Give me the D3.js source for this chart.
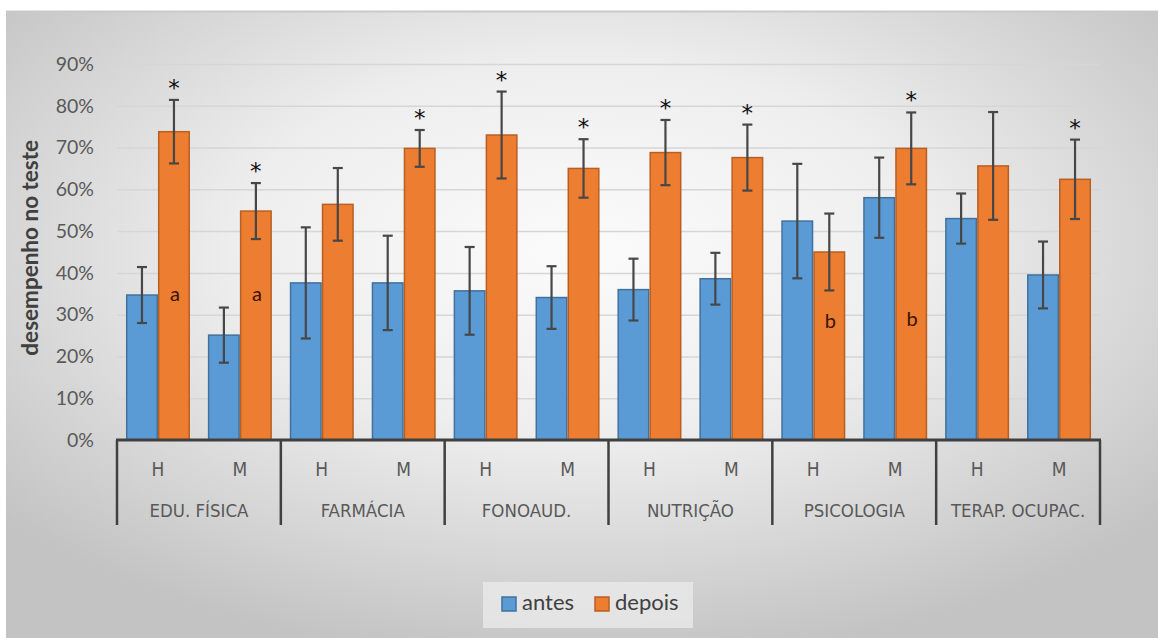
<!DOCTYPE html>
<html>
<head>
<meta charset="utf-8">
<script src="https://cdn.jsdelivr.net/npm/d3@7"></script>
<style>
  html, body { margin: 0; padding: 0; background: #fff; }
  svg { display: block; }
</style>
</head>
<body>
<div class="chart"></div>
<script>
const WIDTH = 1158;
const HEIGHT = 638;
const MARGIN = {TOP: 64, BOTTOM: 198, LEFT: 117, RIGHT: 58};
const innerWidth = WIDTH - MARGIN.LEFT - MARGIN.RIGHT;
const innerHeight = HEIGHT - MARGIN.TOP - MARGIN.BOTTOM;

// data
var cursos = ['EDU. FÍSICA', 'FARMÁCIA', 'FONOAUD.', 'NUTRIÇÃO', 'PSICOLOGIA', 'TERAP. OCUPAC.'];
var sexos = ['H', 'M'];
var series = ['antes', 'depois'];
var antes = [0.347, 0.251, 0.376, 0.376, 0.357, 0.341, 0.360, 0.386, 0.524, 0.580, 0.530, 0.395];
var antesErr = [0.067, 0.066, 0.133, 0.113, 0.105, 0.075, 0.074, 0.062, 0.137, 0.096, 0.060, 0.080];
var depois = [0.738, 0.548, 0.564, 0.698, 0.730, 0.650, 0.688, 0.676, 0.450, 0.698, 0.656, 0.624];
var depoisErr = [0.076, 0.067, 0.087, 0.044, 0.104, 0.070, 0.078, 0.079, 0.092, 0.086, 0.129, 0.095];
var asterisco = [true, true, false, true, true, true, true, true, false, true, false, true];
var letras = ['a', 'a', '', '', '', '', '', '', 'b', 'b', '', ''];
var letraPos = [0.345, 0.345, 0, 0, 0, 0, 0, 0, 0.28, 0.285, 0, 0];
var yTicks = [0, 0.1, 0.2, 0.3, 0.4, 0.5, 0.6, 0.7, 0.8, 0.9];

var colors = {antes: '#5b9bd5', depois: '#ed7d31'};
var borders = {antes: '#41719c', depois: '#b85f22'};
var LABEL_FONT = "'Liberation Sans Narrow', 'DejaVu Sans Condensed', 'Roboto Condensed', Roboto, sans-serif";
var FONT = "Lato, 'Open Sans', sans-serif";

var rows = [];
cursos.forEach(function (c, i) {
    sexos.forEach(function (s, j) {
        var k = i * 2 + j;
        rows.push({curso: c, sexo: s, idx: k,
            antes: antes[k], antesErr: antesErr[k],
            depois: depois[k], depoisErr: depoisErr[k],
            ast: asterisco[k], letra: letras[k], letraPos: letraPos[k]});
    });
});

var x0 = d3.scaleBand().domain(cursos).range([0, innerWidth]);
var x1 = d3.scaleBand().domain(sexos).range([0, x0.bandwidth()]);
var x2 = d3.scaleBand().domain(series).range([0, x1.bandwidth()]).paddingOuter(0.28);
var yScale = d3.scaleLinear().domain([0, 0.9]).range([innerHeight, 0]);

var svg = d3.select('.chart').append('svg')
    .attr('width', WIDTH)
    .attr('height', HEIGHT);

var defs = svg.append('defs');
var grad = defs.append('radialGradient')
    .attr('id', 'bg')
    .attr('cx', '50%').attr('cy', '38%').attr('r', '66%');
grad.append('stop').attr('offset', '0').attr('stop-color', '#fbfbfb');
grad.append('stop').attr('offset', '0.45').attr('stop-color', '#eeeeee');
grad.append('stop').attr('offset', '1').attr('stop-color', '#c3c3c3');

svg.append('rect')
    .attr('x', 6).attr('y', 11)
    .attr('width', WIDTH - 6).attr('height', HEIGHT - 11)
    .attr('fill', 'url(#bg)');
svg.append('line')
    .attr('x1', 6).attr('x2', WIDTH).attr('y1', 11.5).attr('y2', 11.5)
    .attr('stroke', '#c9c9c9').attr('stroke-width', 2);

var mainGroup = svg.append('g')
    .attr('transform', 'translate(' + MARGIN.LEFT + ',' + MARGIN.TOP + ')');

// y axis with gridlines
var yAxis = d3.axisLeft(yScale)
    .tickValues(yTicks)
    .tickFormat(d3.format('.0%'))
    .tickSizeInner(-innerWidth)
    .tickSizeOuter(0);

var yAxisG = mainGroup.append('g').call(yAxis);
yAxisG.select('.domain').remove();
yAxisG.selectAll('.tick line')
    .attr('stroke', '#d6d6d6')
    .attr('stroke-width', 1.5);
yAxisG.selectAll('text')
    .attr('x', -23)
    .attr('fill', '#595959')
    .style('font-family', FONT)
    .style('font-size', '19.5px');

mainGroup.append('text')
    .attr('transform', 'translate(' + (32 - MARGIN.LEFT) + ',' + (yScale(0.46)) + ') rotate(-90)')
    .attr('text-anchor', 'middle')
    .attr('dominant-baseline', 'middle')
    .attr('fill', '#404040')
    .style('font-family', FONT)
    .style('font-weight', 'bold')
    .style('font-size', '22.5px')
    .text('desempenho no teste');

// bars
var cell = mainGroup.selectAll('.cell')
    .data(rows)
    .enter().append('g')
    .attr('transform', function (d) { return 'translate(' + (x0(d.curso) + x1(d.sexo)) + ',0)'; });

series.forEach(function (s) {
    cell.append('rect')
        .attr('x', x2(s) + 0.75)
        .attr('width', x2.bandwidth() - 1.5)
        .attr('y', function (d) { return yScale(d[s]); })
        .attr('height', function (d) { return innerHeight - yScale(d[s]); })
        .attr('fill', colors[s])
        .attr('stroke', borders[s])
        .attr('stroke-width', 1.5);
});

// error bars
series.forEach(function (s) {
    var cx = x2(s) + x2.bandwidth() / 2;
    var err = cell.append('g').attr('stroke', '#474747').attr('stroke-width', 2.2);
    err.append('line')
        .attr('x1', cx).attr('x2', cx)
        .attr('y1', function (d) { return yScale(d[s] + d[s + 'Err']); })
        .attr('y2', function (d) { return yScale(d[s] - d[s + 'Err']); });
    [1, -1].forEach(function (sign) {
        err.append('line')
            .attr('x1', cx - 5).attr('x2', cx + 5)
            .attr('y1', function (d) { return yScale(d[s] + sign * d[s + 'Err']); })
            .attr('y2', function (d) { return yScale(d[s] + sign * d[s + 'Err']); });
    });
});

// asterisks and letters on the "depois" bars
var cxDep = x2('depois') + x2.bandwidth() / 2;
cell.filter(function (d) { return d.ast; })
    .append('text')
    .attr('x', cxDep)
    .attr('y', function (d) { return yScale(d.depois + d.depoisErr) - 4; })
    .attr('text-anchor', 'middle')
    .attr('fill', '#111')
    .style('font-family', "'DejaVu Sans', sans-serif")
    .style('font-size', '23px')
    .text('*');

cell.filter(function (d) { return d.letra; })
    .append('text')
    .attr('x', cxDep + 1)
    .attr('y', function (d) { return yScale(d.letraPos); })
    .attr('text-anchor', 'middle')
    .attr('dominant-baseline', 'middle')
    .attr('fill', '#3a1408')
    .style('font-family', FONT)
    .style('font-size', '20px')
    .text(function (d) { return d.letra; });

// category axis
var xAxisG = mainGroup.append('g')
    .attr('transform', 'translate(0,' + innerHeight + ')');

xAxisG.append('line')
    .attr('x1', -1).attr('x2', innerWidth + 1)
    .attr('y1', 0).attr('y2', 0)
    .attr('stroke', '#404040').attr('stroke-width', 3);

var dividers = cursos.map(function (c) { return x0(c); }).concat([innerWidth]);
xAxisG.selectAll('.div')
    .data(dividers)
    .enter().append('line')
    .attr('x1', function (d) { return d; }).attr('x2', function (d) { return d; })
    .attr('y1', 0).attr('y2', 85)
    .attr('stroke', '#404040').attr('stroke-width', 2.5);

xAxisG.selectAll('.sub')
    .data(rows)
    .enter().append('text')
    .attr('x', function (d) { return x0(d.curso) + x1(d.sexo) + x1.bandwidth() / 2; })
    .attr('y', 30)
    .attr('text-anchor', 'middle')
    .attr('dominant-baseline', 'middle')
    .attr('fill', '#595959')
    .style('font-family', LABEL_FONT)
    .style('font-size', '19px')
    .text(function (d) { return d.sexo; });

xAxisG.selectAll('.grp')
    .data(cursos)
    .enter().append('text')
    .attr('x', function (d) { return x0(d) + x0.bandwidth() / 2; })
    .attr('y', 72)
    .attr('text-anchor', 'middle')
    .attr('dominant-baseline', 'middle')
    .attr('fill', '#595959')
    .style('font-family', LABEL_FONT)
    .style('font-size', '18.5px')
    .text(function (d) { return d; });

// legend
var legend = svg.append('g').attr('transform', 'translate(483,582)');
legend.append('rect')
    .attr('width', 210).attr('height', 46)
    .attr('fill', '#eeeeee').attr('opacity', 0.7);
var legendX = [19, 112];
series.forEach(function (s, i) {
    var item = legend.append('g').attr('transform', 'translate(' + legendX[i] + ',15)');
    item.append('rect')
        .attr('width', 14).attr('height', 14)
        .attr('fill', colors[s])
        .attr('stroke', borders[s]).attr('stroke-width', 1.5);
    item.append('text')
        .attr('x', 20).attr('y', 7)
        .attr('dominant-baseline', 'middle')
        .attr('fill', '#404040')
        .style('font-family', FONT)
        .style('font-size', '22px')
        .text(s);
});
</script>
</body>
</html>
